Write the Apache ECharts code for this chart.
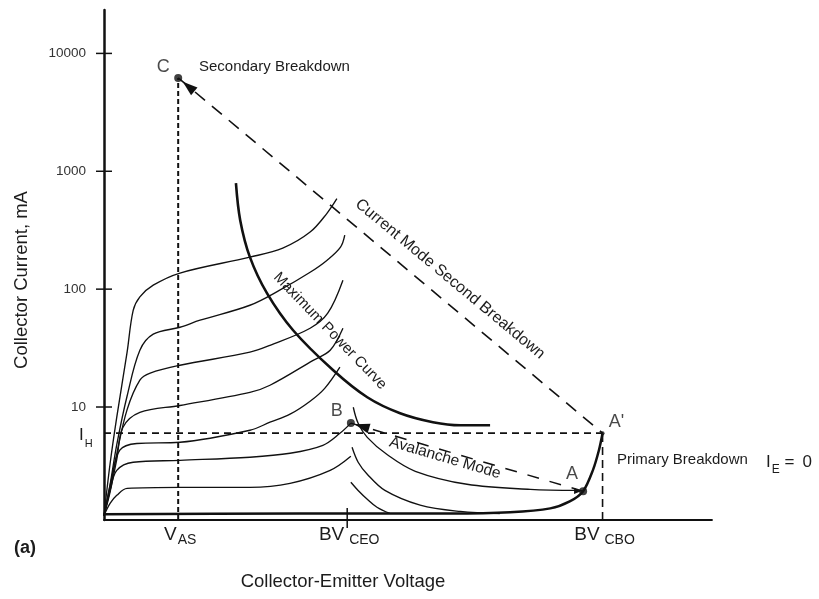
<!DOCTYPE html>
<html>
<head>
<meta charset="utf-8">
<title>Collector characteristics and breakdown regions</title>
<script src="https://cdn.jsdelivr.net/npm/echarts@6/dist/echarts.min.js"></script>
<style>
  html, body { margin: 0; padding: 0; background: #ffffff; }
  #chart { width: 819px; height: 599px; }
</style>
</head>
<body>
<div id="chart"></div>
<script>
// Collector-emitter voltage runs on a 0..100 relative scale; collector current (mA) is logarithmic.
const V_AS = 12.2;
const BV_CEO = 40;
const BV_CBO = 82;
const I_H = 6;

const currentTicks = [10, 100, 1000, 10000];
const voltageMarks = [V_AS, BV_CEO, BV_CBO];
const voltageMarkNames = [['V', 'AS'], ['BV', 'CEO'], ['BV', 'CBO']];

// Key operating points [V, I]
const pointC = [V_AS, 6200];
const pointB = [40.6, 7.3];
const pointA = [78.8, 1.93];
const pointA2 = [BV_CBO, I_H];

// Common-emitter output curves, one per base-current step
const curve1 = [[0, 1.2], [1.0, 3.3], [2.1, 8.2], [3.8, 29.2], [4.8, 66], [5.9, 86], [8.1, 108], [12.5, 137], [24, 187], [29.4, 223], [33.9, 305], [36.7, 442], [38.3, 585]];
const curve2 = [[0, 1.2], [1.0, 2.2], [2.1, 4.8], [3.8, 12.4], [5.9, 30.3], [8.1, 41.5], [12.5, 47.5], [15.8, 54.5], [24, 73], [28.9, 98], [33.9, 139], [36.7, 176], [38.9, 227], [39.6, 287]];
const curve3 = [[0, 1.2], [1.0, 2.0], [2.1, 4.0], [3.8, 9.5], [5.9, 16.9], [7.6, 19.4], [12.5, 22.6], [24, 29.2], [27.3, 33.4], [33.9, 46.6], [36.8, 62.5], [39.3, 119]];
const curve4 = [[0, 1.2], [1.0, 1.9], [2.1, 3.6], [3.1, 6.7], [5.9, 9.0], [12.5, 10.3], [24, 13.3], [27.3, 15.3], [34.4, 24.9], [37.2, 30.3], [39.3, 46.6]];
const curve5 = [[0, 1.2], [1.2, 2.4], [2.6, 4.3], [5.4, 4.9], [12.5, 5.02], [24, 6.35], [27.3, 7.43], [30.6, 8.69], [33.9, 11.2], [36.3, 14.4], [38.8, 21.8]];
const curve6 = [[0, 1.2], [1.0, 1.96], [2.1, 2.9], [4.8, 3.4], [12.5, 3.53], [24, 3.75], [30.6, 4.05], [36, 4.73], [38.8, 5.98], [40.6, 7.3]];
const curve7 = [[0, 1.2], [1.0, 1.52], [2.1, 1.78], [3.8, 2.04], [12.5, 2.08], [24, 2.08], [30.6, 2.25], [37.2, 2.9], [40.6, 3.82]];

// Negative-resistance branches beyond BV_CEO
const branch1 = [[41, 9.95], [41.8, 7.28], [43.3, 5.53], [46.5, 3.97], [51.2, 2.85], [59.7, 2.21], [70.1, 2.0], [77.8, 1.96]];
const branch2 = [[40.8, 4.55], [41.8, 3.4], [43.3, 2.69], [46.2, 1.96], [52, 1.47], [58.6, 1.3], [65.1, 1.25]];
const branch3 = [[40.6, 2.3], [41.8, 1.96], [43.3, 1.65], [44.9, 1.41], [47, 1.25]];

// Open-emitter (I_E = 0) characteristic rising into primary breakdown
const openEmitter = [[0, 1.23], [32.2, 1.25], [56.9, 1.25], [66.8, 1.28], [73.4, 1.38], [76.6, 1.58], [78.8, 1.93], [80.4, 2.9], [81.4, 4.3], [82, 6]];

// Maximum power dissipation hyperbola
const maxPower = [[21.7, 793], [22.4, 385], [24, 187], [26.8, 92.5], [31.1, 44.8], [37.7, 20.5], [43.3, 12.1], [48.7, 8.85], [54.1, 7.43], [58.6, 7.0], [63.5, 7.0]];

// ---- rendering ----
const FONT = '"Liberation Sans", Arial, Helvetica, sans-serif';
const INK = '#111111';
const TEXT = '#1c1c1c';
const Y_MIN = 1.1;
const Y_MAX = 23350;

const chart = echarts.init(document.getElementById('chart'), null, { renderer: 'canvas' });

function solid(data, width, smooth) {
  return {
    type: 'line', data: data, smooth: smooth === undefined ? 0.35 : smooth,
    showSymbol: false, symbol: 'none', silent: true, animation: false, z: 3,
    lineStyle: { color: INK, width: width }
  };
}
function dashed(data, width, dash) {
  return {
    type: 'line', data: data, smooth: false,
    showSymbol: false, symbol: 'none', silent: true, animation: false, z: 3,
    lineStyle: { color: INK, width: width, type: dash }
  };
}

const pointLabelOffsets = { 'C': [-15, -11], 'B': [-14, -12], 'A': [-11, -17], "A'": [14, -11] };
const pointSizes = { 'C': 8, 'B': 8, 'A': 8, "A'": 4 };
const keyPoints = [['C', pointC], ['B', pointB], ['A', pointA], ["A'", pointA2]];

// arrow heads: [tipX, tipY, towardX, towardY, styleIndex]
const arrowStyles = [
  { gap: 6, len: 15, half: 5 },
  { gap: 4, len: 15, half: 5 },
  { gap: 2, len: 7, half: 3 }
];
const arrowData = [
  [pointC[0], pointC[1], pointA2[0], pointA2[1], 0],
  [pointB[0], pointB[1], pointA[0], pointA[1], 1],
  [pointA[0], pointA[1], branch1[branch1.length - 1][0] - 3, branch1[branch1.length - 1][1], 2]
];

function isDecade(v) {
  const e = Math.log10(v);
  return Math.abs(e - Math.round(e)) < 1e-6 && currentTicks.indexOf(Math.round(v)) >= 0;
}

// main-size and subscript text styles for rich labels
function subRich(mainSize, mainLine, subSize, subPad, color, mainPadLeft) {
  return {
    m: { fontSize: mainSize, fontFamily: FONT, color: color, fill: color, lineHeight: mainLine, verticalAlign: 'top', padding: [0, 0, 0, mainPadLeft || 0] },
    s: { fontSize: subSize, fontFamily: FONT, color: color, fill: color, lineHeight: subSize, padding: [subPad, 0, 0, 1], verticalAlign: 'top' }
  };
}

const option = {
  backgroundColor: '#ffffff',
  animation: false,
  grid: { left: 104, top: 10, width: 608, height: 510, containLabel: false },
  xAxis: {
    type: 'value', min: 0, max: 100,
    axisLine: { show: true, lineStyle: { color: INK, width: 1.8 } },
    axisTick: { show: false },
    splitLine: { show: false },
    axisLabel: {
      customValues: voltageMarks,
      margin: 5,
      formatter: function (v) {
        const i = voltageMarks.indexOf(v);
        if (i < 0) return '';
        return '{m|' + voltageMarkNames[i][0] + '}{s|' + (i === 0 ? '' : ' ') + voltageMarkNames[i][1] + '}';
      },
      rich: subRich(19, 20, 14, 8, TEXT, 4)
    }
  },
  yAxis: {
    type: 'log', logBase: 10, min: Y_MIN, max: Y_MAX,
    axisLine: { show: true, lineStyle: { color: INK, width: 2.5 } },
    axisTick: { show: false },
    minorTick: { show: false },
    splitLine: { show: false },
    axisLabel: {
      margin: 18, fontSize: 13.5, fontFamily: FONT, color: '#333333',
      formatter: function (v) { return isDecade(v) ? String(Math.round(v)) : ''; }
    }
  },
  series: [
    solid(curve1, 1.35), solid(curve2, 1.35), solid(curve3, 1.35), solid(curve4, 1.35),
    solid(curve5, 1.35), solid(curve6, 1.35), solid(curve7, 1.35),
    solid(branch1, 1.35), solid(branch2, 1.35), solid(branch3, 1.35),
    solid(openEmitter, 2.5, 0.3),
    solid(maxPower, 2.6, 0.35),
    dashed([pointC, pointA2], 1.6, [13, 9]),
    dashed([[V_AS, Y_MIN], pointC], 2, [5, 3]),
    dashed([[0, I_H], pointA2], 1.6, [7, 5]),
    dashed([[BV_CBO, Y_MIN], pointA2], 1.6, [8, 5]),
    dashed([pointB, pointA], 1.5, [12, 11]),
    {
      type: 'scatter', silent: true, animation: false, z: 6,
      data: keyPoints.map(function (k) {
        return {
          name: k[0], value: k[1], symbolSize: pointSizes[k[0]],
          label: { offset: pointLabelOffsets[k[0]] }
        };
      }),
      itemStyle: { color: INK },
      label: {
        show: true, position: 'inside', formatter: '{b}',
        fontSize: 18, fontFamily: FONT, color: TEXT
      }
    },
    {
      // crossing tick marks on the current axis
      type: 'custom', coordinateSystem: 'cartesian2d', silent: true, animation: false, clip: false, z: 5,
      data: currentTicks.map(function (v) { return [0, v]; }),
      renderItem: function (params, api) {
        const p = api.coord([api.value(0), api.value(1)]);
        return { type: 'line', shape: { x1: p[0] - 8, y1: p[1], x2: p[0] + 8, y2: p[1] }, style: { stroke: INK, lineWidth: 1.5 } };
      }
    },
    {
      // crossing tick mark at BV_CEO on the voltage axis
      type: 'custom', coordinateSystem: 'cartesian2d', silent: true, animation: false, clip: false, z: 5,
      data: [[BV_CEO, Y_MIN]],
      renderItem: function (params, api) {
        const p = api.coord([api.value(0), api.value(1)]);
        return { type: 'line', shape: { x1: p[0], y1: p[1] - 12, x2: p[0], y2: p[1] + 8 }, style: { stroke: INK, lineWidth: 1.5 } };
      }
    },
    {
      // arrow heads along the breakdown paths
      type: 'custom', coordinateSystem: 'cartesian2d', silent: true, animation: false, clip: false, z: 6,
      data: arrowData,
      encode: { x: [0, 2], y: [1, 3] },
      renderItem: function (params, api) {
        const p0 = api.coord([api.value(0), api.value(1)]);
        const p1 = api.coord([api.value(2), api.value(3)]);
        const st = arrowStyles[api.value(4)];
        let dx = p1[0] - p0[0], dy = p1[1] - p0[1];
        const L = Math.hypot(dx, dy) || 1;
        dx /= L; dy /= L;
        const tip = [p0[0] + dx * st.gap, p0[1] + dy * st.gap];
        const base = [tip[0] + dx * st.len, tip[1] + dy * st.len];
        const nx = -dy, ny = dx;
        return {
          type: 'polygon',
          shape: { points: [tip, [base[0] + nx * st.half, base[1] + ny * st.half], [base[0] - nx * st.half, base[1] - ny * st.half]] },
          style: { fill: INK }
        };
      }
    }
  ],
  graphic: [
    { type: 'text', x: 199, y: 67, style: { text: 'Secondary Breakdown', fill: TEXT, fontSize: 15, fontFamily: FONT, align: 'left', verticalAlign: 'middle' } },
    { type: 'text', x: 450, y: 279, rotation: -0.693, style: { text: 'Current Mode Second Breakdown', fill: TEXT, fontSize: 16, fontFamily: FONT, align: 'center', verticalAlign: 'middle' } },
    { type: 'text', x: 330, y: 331, rotation: -0.803, style: { text: 'Maximum Power Curve', fill: TEXT, fontSize: 15, fontFamily: FONT, align: 'center', verticalAlign: 'middle' } },
    { type: 'text', x: 445, y: 458, rotation: -0.285, style: { text: 'Avalanche Mode', fill: TEXT, fontSize: 15.5, fontFamily: FONT, align: 'center', verticalAlign: 'middle' } },
    { type: 'text', x: 617, y: 460, style: { text: 'Primary Breakdown', fill: TEXT, fontSize: 15, fontFamily: FONT, align: 'left', verticalAlign: 'middle' } },
    { type: 'text', x: 766, y: 463, style: {
        text: '{m|I}{s|E}{m| =\u2009 0}', fill: TEXT, align: 'left', verticalAlign: 'middle',
        rich: subRich(17, 18, 12, 10, TEXT) } },
    { type: 'text', x: 79, y: 436, style: {
        text: '{m|I}{s|H}', fill: TEXT, align: 'left', verticalAlign: 'middle',
        rich: subRich(17, 18, 11, 11, TEXT) } },
    { type: 'text', x: 22, y: 280, rotation: Math.PI / 2, style: { text: 'Collector Current, mA', fill: TEXT, fontSize: 18.5, fontFamily: FONT, align: 'center', verticalAlign: 'middle' } },
    { type: 'text', x: 343, y: 582, style: { text: 'Collector-Emitter Voltage', fill: TEXT, fontSize: 18.5, fontFamily: FONT, align: 'center', verticalAlign: 'middle' } },
    { type: 'text', x: 14, y: 548, style: { text: '(a)', fill: TEXT, fontSize: 18, fontWeight: 'bold', fontFamily: FONT, align: 'left', verticalAlign: 'middle' } }
  ]
};

chart.setOption(option);
</script>
</body>
</html>
